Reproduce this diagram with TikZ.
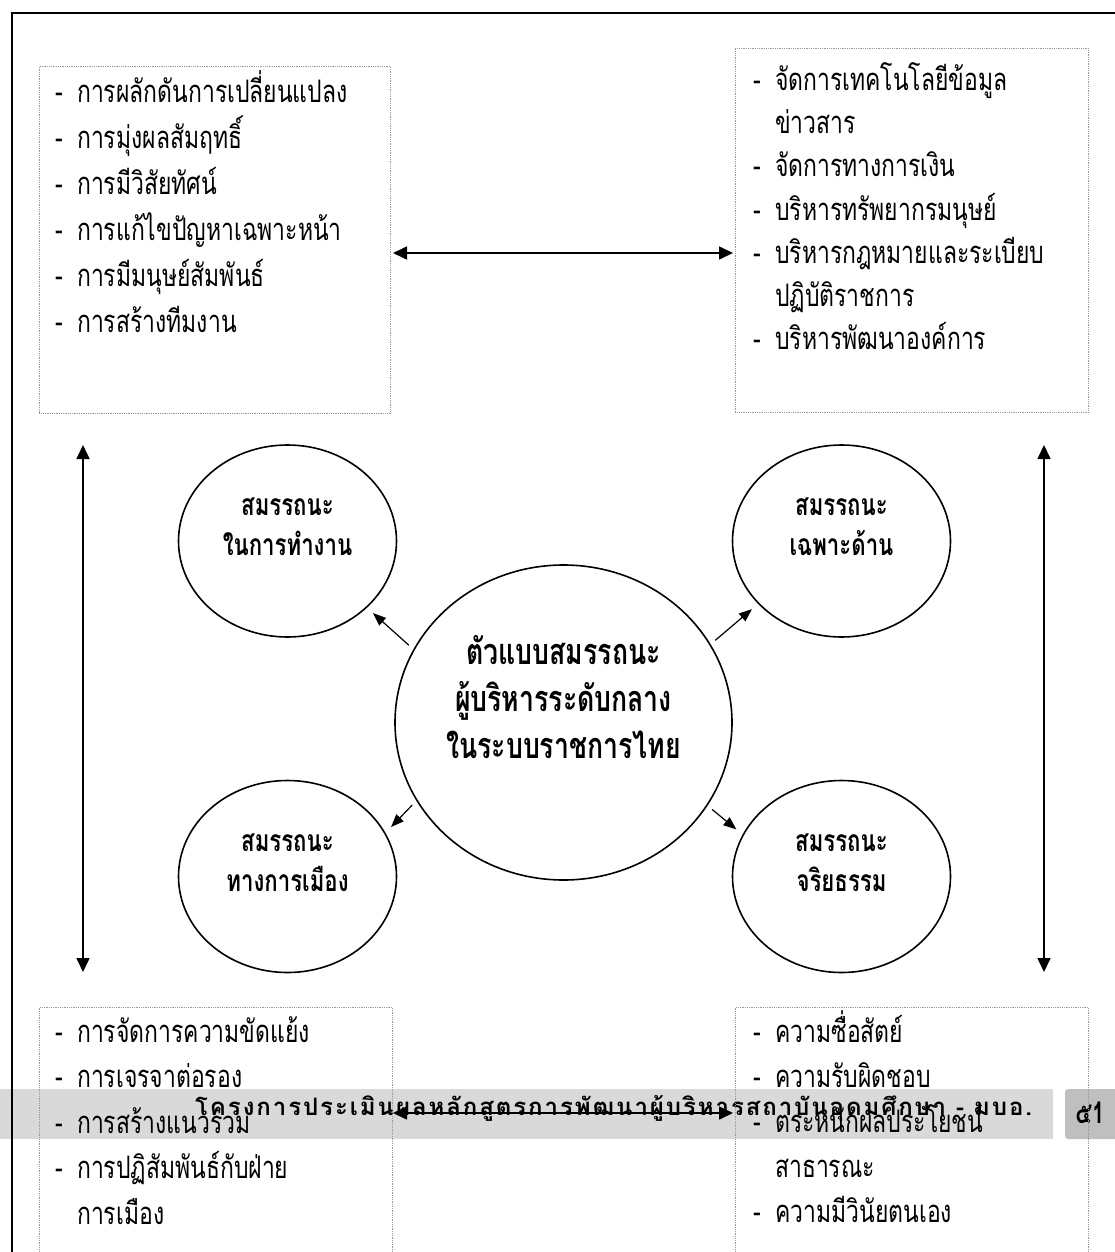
\documentclass[tikz,border=0pt]{standalone}
\usepackage{fontspec}
\newfontfamily\thaifont[Script=Thai,FakeStretch=0.74]{Loma}
\newfontfamily\footfont[Script=Thai,LetterSpace=8]{Loma}
\usetikzlibrary{shapes.geometric,arrows.meta}

\newcommand\itemdash{\makebox[22pt][l]{-}}
\newcommand\nodash{\makebox[22pt]{}}

\begin{document}
\begin{tikzpicture}[x=1pt, y=-1pt,
    listbox/.style={draw=gray!80, densely dotted, line width=0.8pt, anchor=north west, inner sep=0pt},
    listline/.style={anchor=mid west, inner sep=0pt, font=\thaifont\fontsize{31}{36}\selectfont},
    compo/.style={draw, ellipse, line width=1.6pt, inner sep=0pt, minimum width=218pt, minimum height=192pt},
    compotext/.style={align=center, inner sep=0pt, font=\thaifont\bfseries\fontsize{30}{40}\selectfont},
    link/.style={line width=1.6pt, {Triangle[length=14pt,width=13pt]}-{Triangle[length=14pt,width=13pt]}},
    spoke/.style={line width=1.2pt, -{Triangle[length=13pt,width=10pt]}, shorten <=6pt, shorten >=8pt}]
  \useasboundingbox (0,0) rectangle (1115,1252);
  \clip (0,0) rectangle (1115,1252);
  % footer band
  \fill[gray!30] (0,1089) rectangle (1053,1139);
  \fill[gray!50, rounded corners=3pt] (1065,1089) rectangle (1130,1139);
  \node[anchor=mid west, inner sep=0pt, font=\footfont\bfseries\fontsize{24}{26}\selectfont] (footer) at (195,1113) {โครงการประเมินผลหลักสูตรการพัฒนาผู้บริหารสถาบันอุดมศึกษา - มบอ.};
  \node[font=\thaifont\bfseries\fontsize{30}{30}\selectfont] (pagenum) at (1090,1113) {๕1};
  % page frame
  \draw[line width=2pt] (1130,13) -- (12,13) -- (12,1270);
  % list boxes
  \node[listbox, minimum width=351pt, minimum height=347pt] (tlbox) at (39,66) {};
  \node[listbox, minimum width=353pt, minimum height=364pt] (trbox) at (735,48) {};
  \node[listbox, minimum width=353pt, minimum height=300pt] (blbox) at (39,1007) {};
  \node[listbox, minimum width=353pt, minimum height=300pt] (brbox) at (735,1007) {};
  \foreach \t [count=\i] in {\itemdash การผลักดันการเปลี่ยนแปลง, \itemdash การมุ่งผลสัมฤทธิ์,
      \itemdash การมีวิสัยทัศน์, \itemdash การแก้ไขปัญหาเฉพาะหน้า,
      \itemdash การมีมนุษย์สัมพันธ์, \itemdash การสร้างทีมงาน}
    \node[listline] (tl\i) at (55,{100+46*(\i-1)}) {\t};
  \foreach \t [count=\i] in {\itemdash จัดการเทคโนโลยีข้อมูล, \nodash ข่าวสาร,
      \itemdash จัดการทางการเงิน, \itemdash บริหารทรัพยากรมนุษย์,
      \itemdash บริหารกฎหมายและระเบียบ, \nodash ปฏิบัติราชการ,
      \itemdash บริหารพัฒนาองค์การ}
    \node[listline] (tr\i) at (753,{88+43.3*(\i-1)}) {\t};
  \foreach \t [count=\i] in {\itemdash การจัดการความขัดแย้ง, \itemdash การเจรจาต่อรอง,
      \itemdash การสร้างแนวร่วม, \itemdash การปฏิสัมพันธ์กับฝ่าย, \nodash การเมือง}
    \node[listline] (bl\i) at (55,{1040+45.5*(\i-1)}) {\t};
  \foreach \t [count=\i] in {\itemdash ความซื่อสัตย์, \itemdash ความรับผิดชอบ,
      \itemdash ตระหนักผลประโยชน์, \nodash สาธารณะ, \itemdash ความมีวินัยตนเอง}
    \node[listline] (br\i) at (753,{1040+45*(\i-1)}) {\t};
  % competency ellipses
  \node[compo] (work) at (287.5,541) {};
  \node[compotext] (worktxt) at (287.5,527) {สมรรถนะ\\ในการทำงาน};
  \node[compo] (spec) at (841.5,541) {};
  \node[compotext] (spectxt) at (841.5,527) {สมรรถนะ\\เฉพาะด้าน};
  \node[compo] (pol) at (287.5,876.5) {};
  \node[compotext] (poltxt) at (287.5,863) {สมรรถนะ\\ทางการเมือง};
  \node[compo] (eth) at (841.5,876.5) {};
  \node[compotext] (ethtxt) at (841.5,863) {สมรรถนะ\\จริยธรรม};
  \node[compo, minimum width=337pt, minimum height=315pt] (core) at (563.5,722.5) {};
  \node[compotext, font=\thaifont\bfseries\fontsize{36}{47}\selectfont] (coretxt) at (563.5,697)
    {ตัวแบบสมรรถนะ\\ผู้บริหารระดับกลาง\\ในระบบราชการไทย};
  % connectors
  \coordinate (topL) at (393,253);
  \coordinate (topR) at (733,253);
  \coordinate (botL) at (393,1113);
  \coordinate (botR) at (733,1113);
  \coordinate (leftU) at (83,445);
  \coordinate (leftD) at (83,972);
  \coordinate (rightU) at (1044,445);
  \coordinate (rightD) at (1044,972);
  \draw[link] (topL) -- (topR);
  \draw[link] (botL) -- (botR);
  \draw[link] (leftU) -- (leftD);
  \draw[link] (rightU) -- (rightD);
  \draw[spoke] (core.154) -- (work.-40);
  \draw[spoke] (core.28) -- (spec.217);
  \draw[spoke] (core.208) -- (pol.24);
  \draw[spoke] (core.-30) -- (eth.157);
\end{tikzpicture}
\end{document}
